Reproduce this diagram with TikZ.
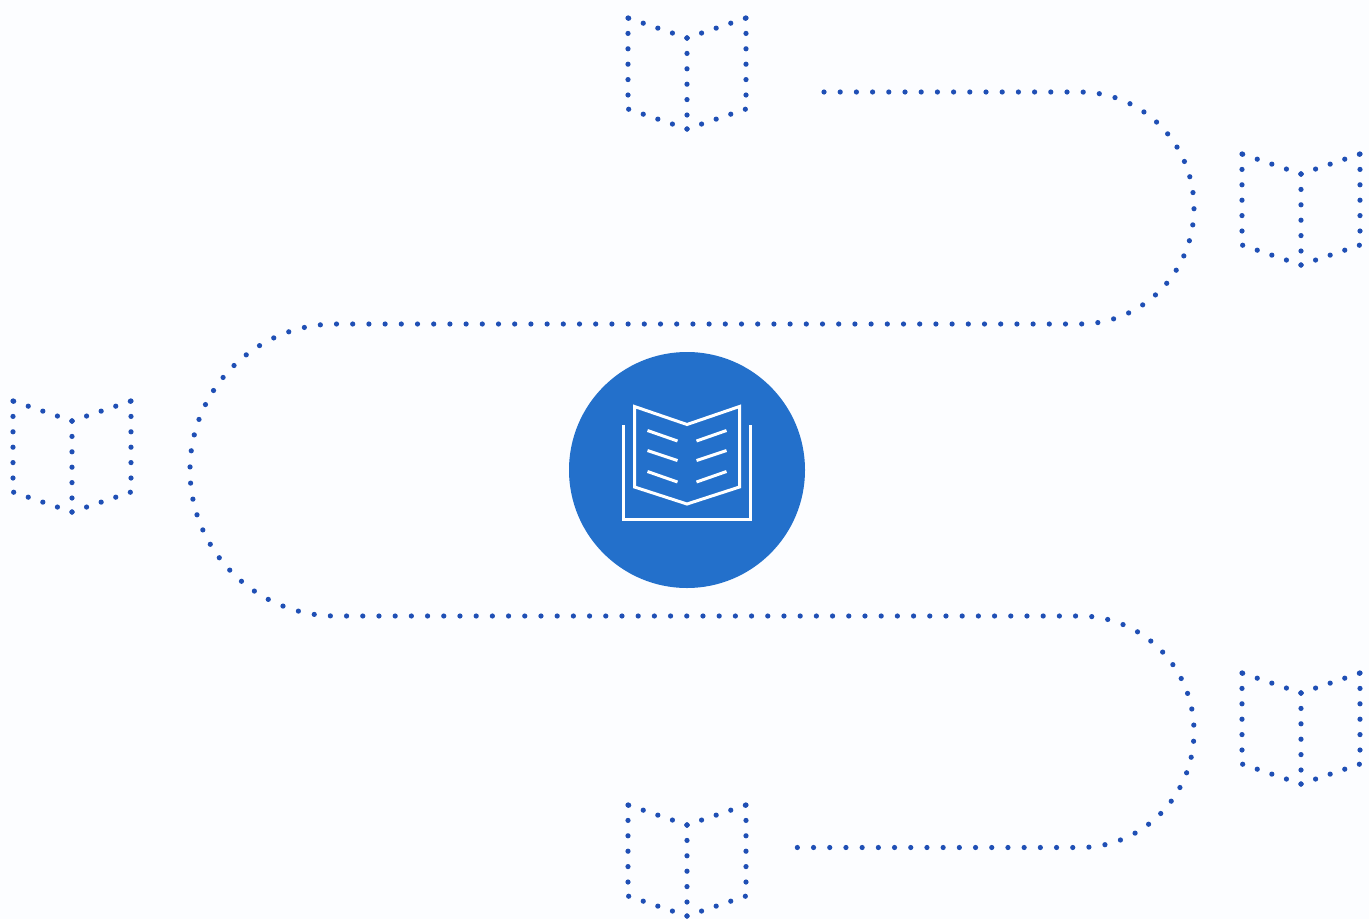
\documentclass[tikz,border=0pt]{standalone}
\usetikzlibrary{calc}
\definecolor{paper}{HTML}{FCFDFF}
\definecolor{hubblue}{HTML}{2370CB}
\definecolor{dotblue}{HTML}{1F4FB5}
\tikzset{
	dots/.style={dotblue,line width=5.2pt,line cap=round,dash pattern=on 0pt off 15.4pt},
	route/.style={dotblue,line width=5.2pt,line cap=round,dash pattern=on 0pt off 16.2pt},
	icon/.style={white,line width=3pt},
	leaf/.pic={
		\draw[dots] (0,0) -- (-59,-20);
		\draw[dots] (0,0) -- (59,-20);
		\draw[dots] (-59,-20) -- (-59,71);
		\draw[dots] (59,-20) -- (59,71);
		\draw[dots] (0,0) -- (0,91);
		\draw[dots] (0,91) -- (-59,71);
		\draw[dots] (0,91) -- (59,71);
	}
}
\begin{document}
\begin{tikzpicture}[x=1pt,y=-1pt]
	\fill[paper] (0,0) rectangle (1369,919);
	\useasboundingbox (0,0) rectangle (1369,919);
	% the five books round the route
	\path (687,38) pic {leaf};
	\path (1301,174) pic {leaf};
	\path (72,421) pic {leaf};
	\path (1301,693) pic {leaf};
	\path (687,825) pic {leaf};
	% route
	\coordinate (start) at (824,92);
	\coordinate (stop) at (795,847.5);
	\draw[route] (start) -- (1080,92)
		arc[start angle=-90,end angle=90,x radius=114,y radius=116]
		-- (336,324)
		arc[start angle=-90,end angle=-270,x radius=146,y radius=146]
		-- (1080,616)
		arc[start angle=-90,end angle=90,x radius=114,y radius=115.75]
		-- (stop);
	% centre
	\node (hub) [circle,fill=hubblue,minimum size=236pt,inner sep=0pt] at (687,470) {};
	\draw[icon] (634.5,406.5) -- (687,424.5) -- (739.5,406.5) -- (739.5,487) -- (687,504) -- (634.5,487) -- cycle;
	\draw[icon] (623.5,425) -- (623.5,519.5) -- (750.5,519.5) -- (750.5,425);
	\foreach \ya/\yb in {430.5/441,450.5/460.5,471.5/482}{
		\draw[icon] (647.5,\ya) -- (677.5,\yb);
		\draw[icon] (726.5,\ya) -- (696.5,\yb);
	}
\end{tikzpicture}
\end{document}
